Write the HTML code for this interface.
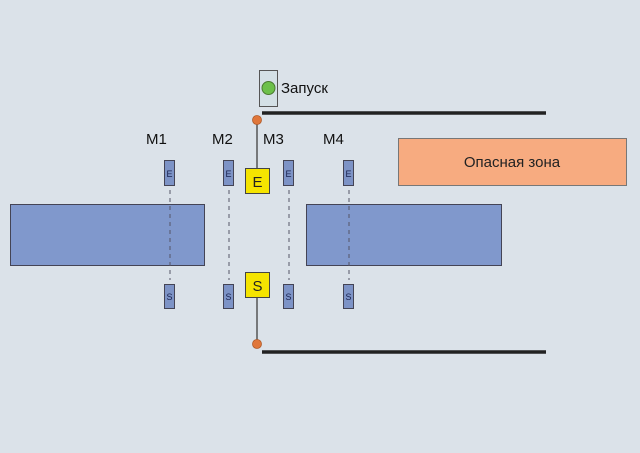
<!DOCTYPE html>
<html><head><meta charset="utf-8"><style>
html,body{margin:0;padding:0;background:#dbe2e9;}
svg{display:block;}
text{font-family:"Liberation Sans","DejaVu Sans",sans-serif;}
</style></head><body>
<svg width="640" height="453" viewBox="0 0 640 453" xmlns="http://www.w3.org/2000/svg">
<rect width="640" height="453" fill="#dbe2e9"/>
<!-- launch -->
<rect x="259.5" y="70.5" width="18" height="36" fill="#d4e0e6" stroke="#555" stroke-width="1"/>
<circle cx="268.5" cy="88" r="6.5" fill="#6cc04a" stroke="#4a7a30" stroke-width="1"/>
<text x="281" y="93" font-size="15" fill="#111">Запуск</text>
<line x1="262" y1="113" x2="546" y2="113" stroke="#222" stroke-width="3.5"/>
<line x1="262" y1="352" x2="546" y2="352" stroke="#222" stroke-width="3.5"/>
<line x1="257" y1="120" x2="257" y2="168" stroke="#555" stroke-width="1.5"/>
<line x1="257" y1="297" x2="257" y2="344" stroke="#555" stroke-width="1.5"/>
<circle cx="257" cy="120" r="4.5" fill="#e0763a" stroke="#b05a28" stroke-width="0.8"/>
<circle cx="257" cy="344" r="4.5" fill="#e0763a" stroke="#b05a28" stroke-width="0.8"/>
<!-- labels -->
<text x="146" y="144" font-size="15" fill="#111">M1</text>
<text x="212" y="144" font-size="15" fill="#111">M2</text>
<text x="263" y="144" font-size="15" fill="#111">M3</text>
<text x="323" y="144" font-size="15" fill="#111">M4</text>
<!-- danger zone -->
<rect x="398.5" y="138.5" width="228" height="47" fill="#f7ab80" stroke="#777" stroke-width="1"/>
<text x="512" y="167" font-size="15" fill="#222" text-anchor="middle">Опасная зона</text>
<!-- blue blocks -->
<rect x="10.5" y="204.5" width="194" height="61" fill="#8098cc" stroke="#445" stroke-width="1"/>
<rect x="306.5" y="204.5" width="195" height="61" fill="#8098cc" stroke="#445" stroke-width="1"/>
<!-- dashed -->
<g stroke="#556" stroke-width="1" stroke-dasharray="4,4">
<line x1="170" y1="190" x2="170" y2="280"/>
<line x1="229" y1="190" x2="229" y2="280"/>
<line x1="289" y1="190" x2="289" y2="280"/>
<line x1="349" y1="190" x2="349" y2="280"/>
</g>
<!-- small E/S -->
<g fill="#7d93c6" stroke="#445" stroke-width="1">
<rect x="164.5" y="160.5" width="10" height="25"/>
<rect x="223.5" y="160.5" width="10" height="25"/>
<rect x="283.5" y="160.5" width="10" height="25"/>
<rect x="343.5" y="160.5" width="10" height="25"/>
<rect x="164.5" y="284.5" width="10" height="24"/>
<rect x="223.5" y="284.5" width="10" height="24"/>
<rect x="283.5" y="284.5" width="10" height="24"/>
<rect x="343.5" y="284.5" width="10" height="24"/>
</g>
<g font-size="9" fill="#1a2350" text-anchor="middle">
<text x="169.5" y="177">E</text><text x="228.5" y="177">E</text><text x="288.5" y="177">E</text><text x="348.5" y="177">E</text>
<text x="169.5" y="300">S</text><text x="228.5" y="300">S</text><text x="288.5" y="300">S</text><text x="348.5" y="300">S</text>
</g>
<!-- yellow -->
<rect x="245.5" y="168.5" width="24" height="25" fill="#f5e400" stroke="#444" stroke-width="1"/>
<rect x="245.5" y="272.5" width="24" height="25" fill="#f5e400" stroke="#444" stroke-width="1"/>
<text x="257.5" y="187" font-size="15" fill="#222" text-anchor="middle">E</text>
<text x="257.5" y="291" font-size="15" fill="#222" text-anchor="middle">S</text>
</svg>
</body></html>
